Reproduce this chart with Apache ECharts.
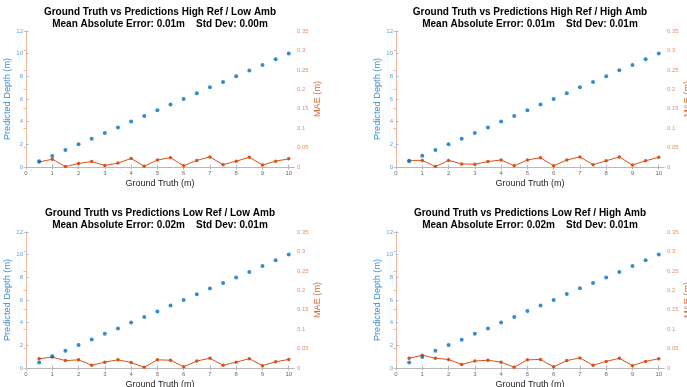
<!DOCTYPE html>
<html>
<head>
<meta charset="utf-8">
<script src="https://cdn.jsdelivr.net/npm/echarts@6/dist/echarts.min.js"></script>
<style>
  html, body { margin: 0; padding: 0; background: #fff; }
  #chart { width: 687px; height: 387px; }
</style>
</head>
<body>
<div id="chart"></div>
<script>
// Ground-truth distances (m)
const groundTruth = [0.5, 1, 1.5, 2, 2.5, 3, 3.5, 4, 4.5, 5, 5.5, 6, 6.5, 7, 7.5, 8, 8.5, 9, 9.5, 10];

// Predicted depth (m) per condition
const predHighRefLowAmb  = [0.513, 0.980, 1.501, 2.009, 2.486, 3.004, 3.490, 4.022, 4.498, 5.018, 5.524, 5.997, 6.517, 7.026, 7.494, 8.015, 8.525, 8.995, 9.515, 10.021];
const predHighRefHighAmb = [0.517, 0.983, 1.499, 2.017, 2.492, 3.007, 3.486, 4.018, 4.503, 5.018, 5.524, 5.997, 6.518, 7.026, 7.494, 8.016, 8.526, 8.995, 9.516, 10.025];
const predLowRefLowAmb   = [0.476, 1.028, 1.519, 2.021, 2.507, 3.015, 3.479, 4.014, 4.498, 4.979, 5.520, 6.003, 6.518, 7.025, 7.507, 7.985, 8.476, 9.006, 9.516, 10.022];
const predLowRefHighAmb  = [0.475, 0.967, 1.525, 2.022, 2.491, 3.018, 3.480, 4.015, 4.498, 5.021, 5.522, 5.997, 6.519, 7.026, 7.507, 7.983, 8.475, 9.006, 9.517, 10.024];

// Mean absolute error (m) per condition
const maeHighRefLowAmb  = [0.013, 0.020, 0.001, 0.009, 0.014, 0.004, 0.010, 0.022, 0.002, 0.018, 0.024, 0.003, 0.017, 0.026, 0.006, 0.015, 0.025, 0.005, 0.015, 0.021];
const maeHighRefHighAmb = [0.017, 0.017, 0.001, 0.017, 0.008, 0.007, 0.014, 0.018, 0.003, 0.018, 0.024, 0.003, 0.018, 0.026, 0.006, 0.016, 0.026, 0.005, 0.016, 0.025];
const maeLowRefLowAmb   = [0.024, 0.028, 0.019, 0.021, 0.007, 0.015, 0.021, 0.014, 0.002, 0.021, 0.020, 0.003, 0.018, 0.025, 0.007, 0.015, 0.024, 0.006, 0.016, 0.022];
const maeLowRefHighAmb  = [0.025, 0.033, 0.025, 0.022, 0.009, 0.018, 0.020, 0.015, 0.002, 0.021, 0.022, 0.003, 0.019, 0.026, 0.007, 0.017, 0.025, 0.006, 0.017, 0.024];

// Panel titles
const titleLines1 = [
  'Ground Truth vs Predictions High Ref / Low Amb',
  'Ground Truth vs Predictions High Ref / High Amb',
  'Ground Truth vs Predictions Low Ref / Low Amb',
  'Ground Truth vs Predictions Low Ref / High Amb'
];
const titleLines2 = [
  'Mean Absolute Error: 0.01m    Std Dev: 0.00m',
  'Mean Absolute Error: 0.01m    Std Dev: 0.01m',
  'Mean Absolute Error: 0.02m    Std Dev: 0.01m',
  'Mean Absolute Error: 0.02m    Std Dev: 0.01m'
];

// Axis ticks
const xTicks = [0, 1, 2, 3, 4, 5, 6, 7, 8, 9, 10];
const xMax = 10.2;
const depthMax = 12, depthStep = 2;
const maeMax = 0.35, maeStep = 0.05;

const predictions = [predHighRefLowAmb, predHighRefHighAmb, predLowRefLowAmb, predLowRefHighAmb];
const maes = [maeHighRefLowAmb, maeHighRefHighAmb, maeLowRefLowAmb, maeLowRefHighAmb];

// Layout of the 2x2 panels
const FONT = 'Liberation Sans, Arial, Helvetica, sans-serif';
const BLUE = '#0072BD', ORANGE = '#D95319';
const panelLeft = [26, 396, 26, 396];
const panelTop = [31, 31, 232, 232];
const panelW = 268, panelH = 136;

const grids = [], xAxes = [], yAxes = [], series = [], titles = [];

for (let p = 0; p < 4; p++) {
  grids.push({
    left: panelLeft[p], top: panelTop[p], width: panelW, height: panelH,
    containLabel: false, outerBoundsMode: 'none'
  });

  titles.push({
    text: titleLines1[p] + '\n' + titleLines2[p],
    left: panelLeft[p] + panelW / 2,
    top: panelTop[p] - 25,
    textAlign: 'center',
    padding: 0,
    textStyle: { fontFamily: FONT, fontSize: 10, fontWeight: 'bold', color: '#000', lineHeight: 12.2 }
  });

  // bottom x axis
  xAxes.push({
    type: 'value', gridIndex: p, position: 'bottom', min: 0, max: xMax,
    name: 'Ground Truth (m)', nameLocation: 'middle', nameGap: 12,
    nameTextStyle: { fontFamily: FONT, fontSize: 9, color: '#262626' },
    axisLine: { show: true, lineStyle: { color: '#b8b8b8', width: 1 } },
    axisTick: { show: true, inside: true, length: 2.5, customValues: xTicks, lineStyle: { color: '#b8b8b8' } },
    axisLabel: { show: true, customValues: xTicks, margin: 3, fontFamily: FONT, fontSize: 6, color: '#6a6a6a' },
    splitLine: { show: false }
  });
  // top x axis (box edge)
  xAxes.push({
    type: 'value', gridIndex: p, position: 'top', min: 0, max: xMax,
    axisLine: { show: true, lineStyle: { color: '#b8b8b8', width: 1 } },
    axisTick: { show: true, inside: true, length: 2.5, customValues: xTicks, lineStyle: { color: '#b8b8b8' } },
    axisLabel: { show: false },
    splitLine: { show: false }
  });
  // left y axis: predicted depth
  yAxes.push({
    type: 'value', gridIndex: p, position: 'left', min: 0, max: depthMax, interval: depthStep,
    name: 'Predicted Depth (m)', nameLocation: 'middle', nameRotate: 90, nameGap: 11,
    nameTextStyle: { fontFamily: FONT, fontSize: 9.2, color: '#3a8fd0' },
    axisLine: { show: true, lineStyle: { color: '#8cc2ea', width: 1 } },
    axisTick: { show: true, inside: true, length: 2.5, lineStyle: { color: '#8cc2ea' } },
    axisLabel: { margin: 3, fontFamily: FONT, fontSize: 6, color: '#5aa3da' },
    splitLine: { show: false }
  });
  // right y axis: MAE
  yAxes.push({
    type: 'value', gridIndex: p, position: 'right', min: 0, max: maeMax, interval: maeStep,
    name: 'MAE (m)', nameLocation: 'middle', nameRotate: 90, nameGap: 18,
    nameTextStyle: { fontFamily: FONT, fontSize: 9.2, color: '#d9683a' },
    axisLine: { show: true, lineStyle: { color: '#efb89c', width: 1 } },
    axisTick: { show: true, inside: true, length: 2.5, lineStyle: { color: '#efb89c' } },
    axisLabel: { margin: 3, fontFamily: FONT, fontSize: 6, color: '#e3926a',
      formatter: v => String(+v.toFixed(2)) },
    splitLine: { show: false }
  });

  series.push({
    type: 'scatter', xAxisIndex: 2 * p, yAxisIndex: 2 * p,
    data: groundTruth.map((g, i) => [g, predictions[p][i]]),
    symbol: 'circle', symbolSize: 4,
    itemStyle: { color: BLUE },
    silent: true, z: 3
  });
  series.push({
    type: 'line', xAxisIndex: 2 * p, yAxisIndex: 2 * p + 1,
    data: groundTruth.map((g, i) => [g, maes[p][i]]),
    symbol: 'circle', symbolSize: 3.5, showSymbol: true,
    lineStyle: { color: ORANGE, width: 1 },
    itemStyle: { color: ORANGE },
    silent: true, z: 2
  });
}

const chart = echarts.init(document.getElementById('chart'), null, { renderer: 'canvas' });
chart.setOption({
  animation: false,
  backgroundColor: '#fff',
  title: titles,
  grid: grids,
  xAxis: xAxes,
  yAxis: yAxes,
  series: series
});
</script>
</body>
</html>
